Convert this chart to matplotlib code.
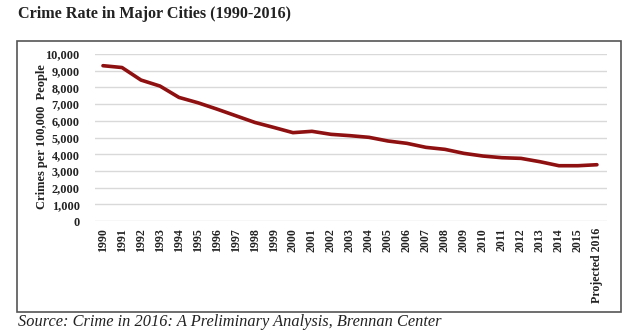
import matplotlib
matplotlib.use("Agg")
import matplotlib.pyplot as plt
from matplotlib.patches import Rectangle

# Crimes per 100,000 people, major cities
years = ['1990', '1991', '1992', '1993', '1994', '1995', '1996', '1997', '1998',
         '1999', '2000', '2001', '2002', '2003', '2004', '2005', '2006', '2007',
         '2008', '2009', '2010', '2011', '2012', '2013', '2014', '2015',
         'Projected 2016']
crime_rate = [9300, 9190, 8440, 8080, 7400, 7080, 6700, 6300, 5900,
              5600, 5290, 5370, 5190, 5110, 5010, 4790, 4650, 4410,
              4290, 4050, 3890, 3790, 3750, 3550, 3310, 3310, 3370]
y_ticks = list(range(0, 10001, 1000))

W, H = 630, 335
serif = ['Liberation Serif', 'DejaVu Serif']

fig = plt.figure(figsize=(W / 100, H / 100), dpi=100)
fig.patch.set_facecolor('white')


def fx(px):
    return px / W


def fy(py):
    return 1 - py / H


# outer frame of the chart
fig.patches.append(Rectangle((fx(17), fy(312)), fx(621) - fx(17), fy(41) - fy(312),
                             transform=fig.transFigure, fill=False,
                             edgecolor='#555555', linewidth=1.2))

ax = fig.add_axes([fx(95), fy(221), fx(607) - fx(95), fy(54) - fy(221)])
x = list(range(len(years)))
ax.plot(x, crime_rate, color='#8e1010', linewidth=2.6, solid_capstyle='round',
        solid_joinstyle='round')

ax.set_xlim(-0.42, len(years) - 1 + 0.53)
ax.set_ylim(0, 10000)
ax.set_yticks(y_ticks)
ax.set_yticklabels([f'{v:,}' for v in y_ticks], fontfamily=serif,
                   fontweight='bold', fontsize=8.8)
ax.set_xticks(x)
ax.set_xticklabels(years, rotation=90, fontfamily=serif, fontweight='bold',
                   fontsize=8.6, va='top')
ax.tick_params(axis='both', length=0, colors='#222222')
ax.tick_params(axis='y', pad=11)
ax.tick_params(axis='x', pad=5)
ax.grid(axis='y', color='#d9d9d9', linewidth=1)
ax.set_axisbelow(True)
for s in ax.spines.values():
    s.set_visible(False)

fig.text(fx(42), fy(137), 'Crimes per 100,000  People',
         rotation=90, ha='center', va='center', fontfamily=serif,
         fontweight='bold', fontsize=9, color='#222222')

fig.text(fx(18), fy(14), 'Crime Rate in Major Cities (1990-2016)',
         ha='left', va='center', fontfamily=serif, fontweight='bold',
         fontsize=11.6, color='#222222')
fig.text(fx(18), fy(322), 'Source: Crime in 2016: A Preliminary Analysis, Brennan Center',
         ha='left', va='center', fontfamily=serif, style='italic',
         fontsize=11.8, color='#222222')

fig.savefig('out.png', dpi=100, facecolor='white')
